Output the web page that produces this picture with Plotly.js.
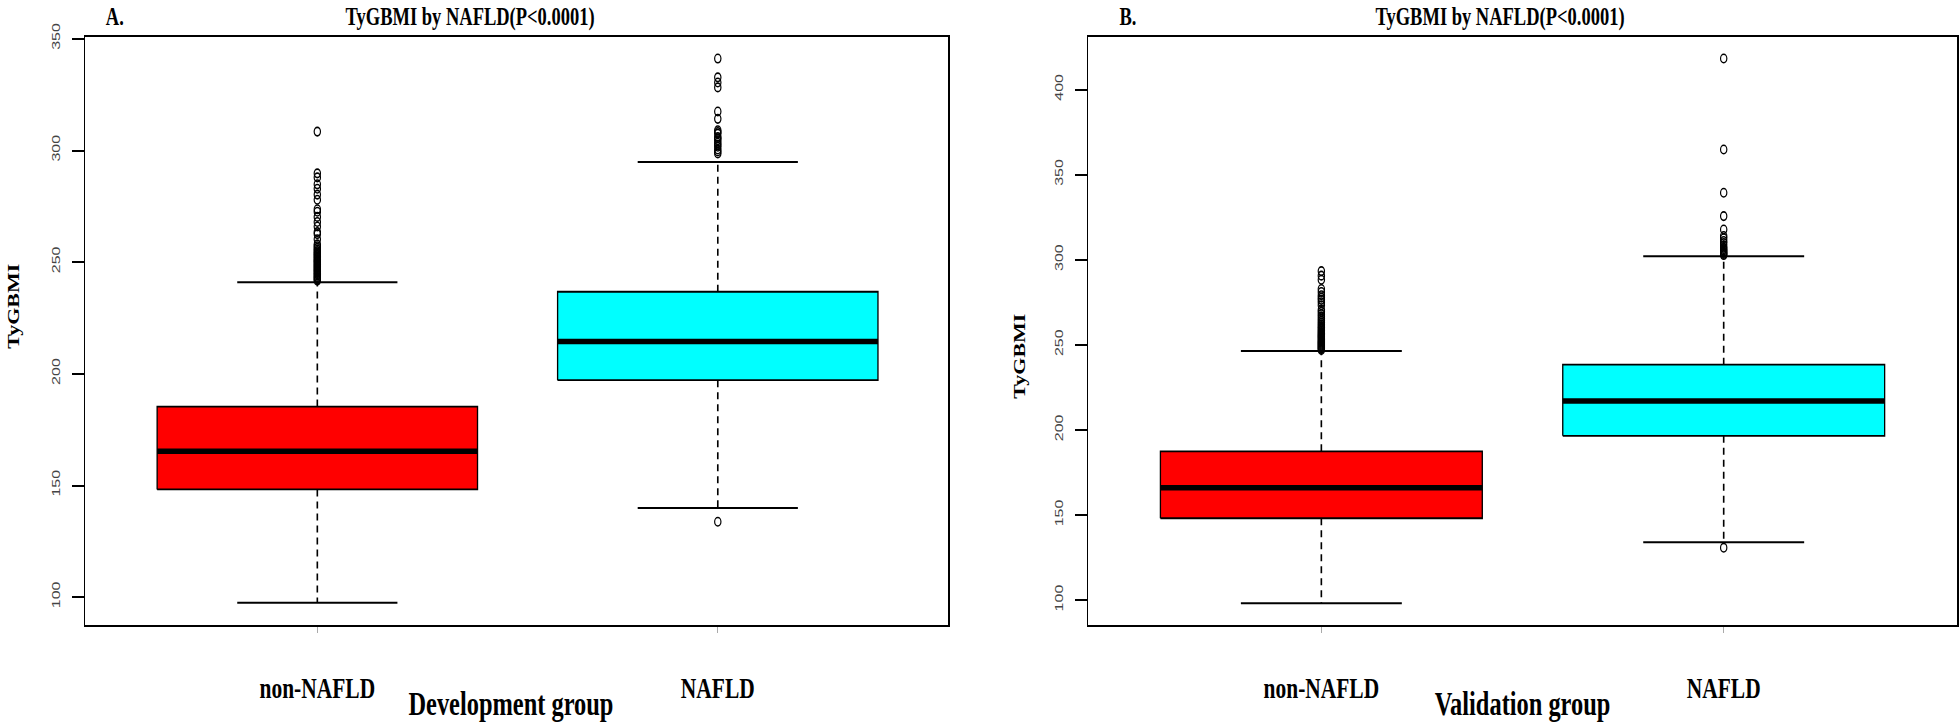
<!DOCTYPE html>
<html>
<head>
<meta charset="utf-8">
<script src="https://cdn.plot.ly/plotly-3.0.1.min.js"></script>
<style>
  html, body { margin: 0; padding: 0; background: #fff; width: 1960px; height: 722px; overflow: hidden; }
  #chart { width: 2649px; height: 722px; transform: scaleX(0.7399); transform-origin: 0 0; }
</style>
</head>
<body>
<div id="chart"></div>
<script>
// ---------- data ----------
const categories = ["non-NAFLD", "NAFLD"];
const boxColors = ["#ff0000", "#00ffff"];

// Development group (panel A)
const devLowerWhisker = [97.5, 140.0];
const devQ1 = [148.3, 197.2];
const devMedian = [165.4, 214.5];
const devQ3 = [185.4, 236.8];
const devUpperWhisker = [241.1, 294.9];
const devOutliersNonNAFLD = [241.8, 242.3, 242.9, 243.4, 244.0, 244.6, 245.1, 245.7, 246.3, 246.8,
  247.4, 248.0, 248.5, 249.1, 249.7, 250.3, 250.8, 251.4, 252.0, 252.6, 253.2, 253.8, 254.4, 255.0,
  255.7, 256.4, 257.2, 258.0, 260.3, 262.6, 263.5, 266.0, 268.0, 270.3, 272.6, 273.7, 278.0, 280.3,
  282.9, 284.9, 288.0, 289.8, 308.5];
const devOutliersNAFLD = [133.8, 298.7, 299.6, 300.5, 301.7, 302.6, 303.5, 304.6, 305.5, 306.1,
  307.6, 308.3, 309.1, 314.2, 317.5, 328.3, 330.5, 332.8, 341.2];

// Validation group (panel B)
const valLowerWhisker = [98.4, 134.2];
const valQ1 = [148.3, 196.7];
const valMedian = [166.2, 217.1];
const valQ3 = [187.6, 238.5];
const valUpperWhisker = [246.5, 302.2];
const valOutliersNonNAFLD = [247.2, 247.8, 248.4, 249.0, 249.6, 250.2, 250.8, 251.4, 252.0, 252.6,
  253.3, 254.0, 254.7, 255.4, 256.1, 256.9, 257.7, 258.5, 259.4, 260.3, 261.2, 262.2, 263.3, 264.4,
  265.6, 266.9, 268.2, 269.6, 270.8, 273.4, 275.2, 276.6, 277.9, 279.3, 281.2, 283.0, 288.4, 290.8, 293.5];
const valOutliersNAFLD = [131.0, 302.9, 303.5, 304.2, 304.9, 305.6, 306.4, 307.2, 308.4, 310.0,
  311.2, 312.8, 314.1, 317.9, 325.8, 339.5, 364.9, 418.4];

const panelLabels = ["A.", "B."];
const panelTitles = ["TyGBMI by NAFLD(P<0.0001)", "TyGBMI by NAFLD(P<0.0001)"];
const xTitles = ["Development group", "Validation group"];
const yTitle = "TyGBMI";
const devTicks = [100, 150, 200, 250, 300, 350];
const valTicks = [100, 150, 200, 250, 300, 350, 400];

// ---------- drawing ----------
const BW = 0.4;   // half box width
const CW = 0.2;   // half staple width
const serif = "Liberation Serif, Times New Roman, serif";
const sans = "Liberation Sans, Arial, sans-serif";

function panelTraces(xa, ya, lower, q1, med, q3, upper, outs) {
  const t = [];
  categories.forEach((c, i) => {
    const p = i + 1;
    t.push({type: "scatter", mode: "lines", xaxis: xa, yaxis: ya,
      x: [p - BW, p + BW, p + BW, p - BW, p - BW],
      y: [q1[i], q1[i], q3[i], q3[i], q1[i]],
      fill: "toself", fillcolor: boxColors[i],
      line: {color: "#000", width: 1.8}, hoverinfo: "skip", showlegend: false});
  });
  const mx = [], my = [], wx = [], wy = [], sx = [], sy = [];
  categories.forEach((c, i) => {
    const p = i + 1;
    mx.push(p - BW, p + BW, null); my.push(med[i], med[i], null);
    wx.push(p, p, null, p, p, null); wy.push(q3[i], upper[i], null, q1[i], lower[i], null);
    sx.push(p - CW, p + CW, null, p - CW, p + CW, null);
    sy.push(upper[i], upper[i], null, lower[i], lower[i], null);
  });
  t.push({type: "scatter", mode: "lines", xaxis: xa, yaxis: ya, x: mx, y: my,
    line: {color: "#000", width: 5.5}, hoverinfo: "skip", showlegend: false});
  t.push({type: "scatter", mode: "lines", xaxis: xa, yaxis: ya, x: wx, y: wy,
    line: {color: "#000", width: 2.2, dash: "7px,5px"}, hoverinfo: "skip", showlegend: false});
  t.push({type: "scatter", mode: "lines", xaxis: xa, yaxis: ya, x: sx, y: sy,
    line: {color: "#000", width: 2}, hoverinfo: "skip", showlegend: false});
  const ox = [], oy = [];
  outs.forEach((arr, i) => arr.forEach(v => { ox.push(i + 1); oy.push(v); }));
  t.push({type: "scatter", mode: "markers", xaxis: xa, yaxis: ya, x: ox, y: oy,
    marker: {symbol: "circle-open", size: 8.5, color: "#000", line: {width: 1.6, color: "#000"}},
    hoverinfo: "skip", showlegend: false});
  return t;
}

const data = [
  ...panelTraces("x", "y", devLowerWhisker, devQ1, devMedian, devQ3, devUpperWhisker,
    [devOutliersNonNAFLD, devOutliersNAFLD]),
  ...panelTraces("x2", "y2", valLowerWhisker, valQ1, valMedian, valQ3, valUpperWhisker,
    [valOutliersNonNAFLD, valOutliersNAFLD])
];

function xAxis(domain, range, anchor) {
  return {domain: domain, range: range, anchor: anchor, tickmode: "array", tickvals: [1, 2],
    ticktext: categories, ticks: "outside", ticklen: 6, tickwidth: 1.5, tickcolor: "#aaa",
    showline: true, mirror: true, linecolor: "#000", linewidth: 2, showgrid: false, zeroline: false,
    tickfont: {family: serif, size: 29, color: "#000", weight: "bold"},
    ticklabelstandoff: 30, automargin: false, fixedrange: true};
}
function yAxis(domain, range, ticks, anchor) {
  return {domain: domain, range: range, anchor: anchor, tickmode: "array", tickvals: ticks,
    ticks: "outside", ticklen: 15, tickwidth: 2, tickcolor: "#000", tickangle: -90,
    showline: true, mirror: true, linecolor: "#000", linewidth: 2, showgrid: false, zeroline: false,
    tickfont: {family: sans, size: 16, color: "#444"},
    ticklabelstandoff: 10, automargin: false, fixedrange: true};
}

const yDom = [0.1344, 0.9492];
const titleFont = {family: serif, size: 25, color: "#000", weight: "bold"};
const layout = {
  width: 2649, height: 722,
  margin: {l: 0, r: 0, t: 0, b: 0},
  paper_bgcolor: "#fff", plot_bgcolor: "#fff",
  showlegend: false,
  xaxis: xAxis([0.0434, 0.4837], [0.42, 2.575], "y"),
  yaxis: yAxis(yDom, [87.6, 351.0], devTicks, "x"),
  xaxis2: xAxis([0.5551, 0.9985], [0.42, 2.58], "y2"),
  yaxis2: yAxis(yDom, [85.6, 431.2], valTicks, "x2"),
  annotations: [
    {text: panelLabels[0], xref: "paper", yref: "paper", x: 0.0587, y: 1, xanchor: "center", yanchor: "top", yshift: -1,
      showarrow: false, font: titleFont},
    {text: panelTitles[0], xref: "paper", yref: "paper", x: 0.2398, y: 1, xanchor: "center", yanchor: "top", yshift: -1,
      showarrow: false, font: titleFont},
    {text: panelLabels[1], xref: "paper", yref: "paper", x: 0.5755, y: 1, xanchor: "center", yanchor: "top", yshift: -1,
      showarrow: false, font: titleFont},
    {text: panelTitles[1], xref: "paper", yref: "paper", x: 0.7653, y: 1, xanchor: "center", yanchor: "top", yshift: -1,
      showarrow: false, font: titleFont},
    {text: xTitles[0], xref: "paper", yref: "paper", x: 0.2607, y: 0, xanchor: "center", yanchor: "bottom", yshift: -2,
      showarrow: false, font: {family: serif, size: 33, color: "#000", weight: "bold"}},
    {text: xTitles[1], xref: "paper", yref: "paper", x: 0.7768, y: 0, xanchor: "center", yanchor: "bottom", yshift: -2,
      showarrow: false, font: {family: serif, size: 33, color: "#000", weight: "bold"}},
    {text: yTitle, xref: "paper", yref: "paper", x: 0.0068, y: 0.575, xanchor: "center", yanchor: "middle", textangle: -90,
      showarrow: false, font: {family: serif, size: 22, color: "#000", weight: "bold"}},
    {text: yTitle, xref: "paper", yref: "paper", x: 0.5205, y: 0.507, xanchor: "center", yanchor: "middle", textangle: -90,
      showarrow: false, font: {family: serif, size: 22, color: "#000", weight: "bold"}}
  ]
};

Plotly.newPlot("chart", data, layout, {staticPlot: true, displayModeBar: false});
</script>
</body>
</html>
